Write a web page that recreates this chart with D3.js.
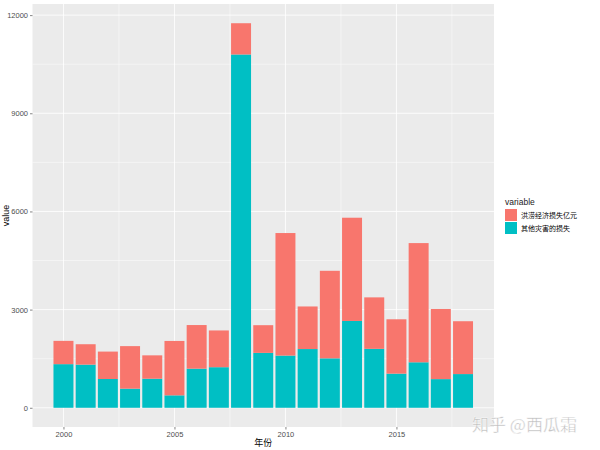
<!DOCTYPE html>
<html>
<head>
<meta charset="utf-8">
<script src="https://cdn.jsdelivr.net/npm/d3@7"></script>
<style>
body { margin: 0; background: #fff; }
svg { display: block; }
text { font-family: "Liberation Sans", Arial, "Noto Sans CJK SC", sans-serif; }
</style>
</head>
<body>
<svg id="chart" width="600" height="450"></svg>
<script>
const years = [2000,2001,2002,2003,2004,2005,2006,2007,2008,2009,2010,2011,2012,2013,2014,2015,2016,2017,2018];
const floodLoss = [712,623,838,1300,714,1662,1333,1123,955,846,3745,1301,2675,3155,1573,1661,3643,2143,1615];
const otherLoss = [1333,1319,879,584,888,380,1195,1240,10797,1678,1595,1795,1511,2653,1801,1043,1390,876,1030];
const seriesNames = ["洪涝经济损失亿元", "其他灾害的损失"];
const seriesColors = ["#F8766D", "#00BFC4"];
const yTicks = [0, 3000, 6000, 9000, 12000];
const yMinor = [1500, 4500, 7500, 10500];
const xTicks = [2000, 2005, 2010, 2015];
const xMinor = [2002.5, 2007.5, 2012.5, 2017.5];

const svg = d3.select("#chart");
const panel = {left: 32.5, right: 494, top: 4, bottom: 427};

const rows = years.map((y, i) => ({year: y, flood: floodLoss[i], other: otherLoss[i]}));
const stack = d3.stack().keys(["other", "flood"])(rows);
const maxTot = d3.max(rows, d => d.flood + d.other);
const yPad = maxTot * 0.05;

const x = d3.scaleLinear().domain([1999.55 - 18.9*0.05, 2018.45 + 18.9*0.05]).range([panel.left, panel.right]);
const y = d3.scaleLinear().domain([-yPad, maxTot + yPad]).range([panel.bottom, panel.top]);

// panel background
svg.append("rect").attr("x", panel.left).attr("y", panel.top)
  .attr("width", panel.right - panel.left).attr("height", panel.bottom - panel.top)
  .attr("fill", "#EBEBEB");

const g = svg.append("g");
// minor grid
g.selectAll(".ym").data(yMinor).join("line")
  .attr("x1", panel.left).attr("x2", panel.right)
  .attr("y1", d => y(d)).attr("y2", d => y(d))
  .attr("stroke", "#fff").attr("stroke-width", 0.45);
g.selectAll(".xm").data(xMinor).join("line")
  .attr("y1", panel.top).attr("y2", panel.bottom)
  .attr("x1", d => x(d)).attr("x2", d => x(d))
  .attr("stroke", "#fff").attr("stroke-width", 0.45);
// major grid
g.selectAll(".yM").data(yTicks).join("line")
  .attr("x1", panel.left).attr("x2", panel.right)
  .attr("y1", d => y(d)).attr("y2", d => y(d))
  .attr("stroke", "#fff").attr("stroke-width", 0.85);
g.selectAll(".xM").data(xTicks).join("line")
  .attr("y1", panel.top).attr("y2", panel.bottom)
  .attr("x1", d => x(d)).attr("x2", d => x(d))
  .attr("stroke", "#fff").attr("stroke-width", 0.85);

// bars
const colorOf = {other: seriesColors[1], flood: seriesColors[0]};
stack.forEach(layer => {
  svg.append("g").selectAll("rect").data(layer).join("rect")
    .attr("x", d => x(d.data.year - 0.45))
    .attr("width", d => x(d.data.year + 0.45) - x(d.data.year - 0.45))
    .attr("y", d => y(d[1]))
    .attr("height", d => y(d[0]) - y(d[1]))
    .attr("fill", colorOf[layer.key]);
});

// axes
const yAxis = d3.axisLeft(y).tickValues(yTicks).tickSize(2.5).tickPadding(2).tickFormat(d3.format("d"));
const ya = svg.append("g").attr("transform", `translate(${panel.left},0)`).call(yAxis);
const xAxis = d3.axisBottom(x).tickValues(xTicks).tickSize(2.5).tickPadding(2).tickFormat(d3.format("d"));
const xa = svg.append("g").attr("transform", `translate(0,${panel.bottom})`).call(xAxis);
[ya, xa].forEach(a => {
  a.select(".domain").remove();
  a.selectAll(".tick line").attr("stroke", "#333").attr("stroke-width", 0.6);
  a.selectAll(".tick text").attr("fill", "#4D4D4D").style("font-size", "7.5px");
});

// axis titles
svg.append("text").attr("transform", `translate(9,${(panel.top+panel.bottom)/2}) rotate(-90)`)
  .attr("text-anchor", "middle").attr("fill", "#000").style("font-size", "9px").text("value");
svg.append("text").attr("x", (panel.left+panel.right)/2).attr("y", 446)
  .attr("text-anchor", "middle").attr("fill", "#000").style("font-size", "9px")
  .style("font-family", "'Noto Sans CJK SC', sans-serif").text("年份");

// legend
const lg = svg.append("g").attr("transform", "translate(505,199)");
lg.append("text").attr("x", 0).attr("y", 6).style("font-size", "8.5px").attr("fill", "#222").text("variable");
seriesNames.forEach((n, i) => {
  lg.append("rect").attr("x", 0).attr("y", 10 + i*13).attr("width", 12).attr("height", 12).attr("fill", seriesColors[i]);
  lg.append("text").attr("x", 16).attr("y", 19 + i*13).style("font-size", "7px")
    .style("font-family", "'Noto Sans CJK SC', sans-serif").attr("fill", "#000").text(n);
});

// watermark
svg.append("text").attr("x", 472).attr("y", 431).style("font-size", "17px")
  .style("font-family", "'Noto Sans CJK SC', sans-serif")
  .attr("fill", "#BDBDBD").attr("stroke", "#fff").attr("stroke-width", 0.4)
  .text("知乎 @西瓜霜");
</script>
</body>
</html>
